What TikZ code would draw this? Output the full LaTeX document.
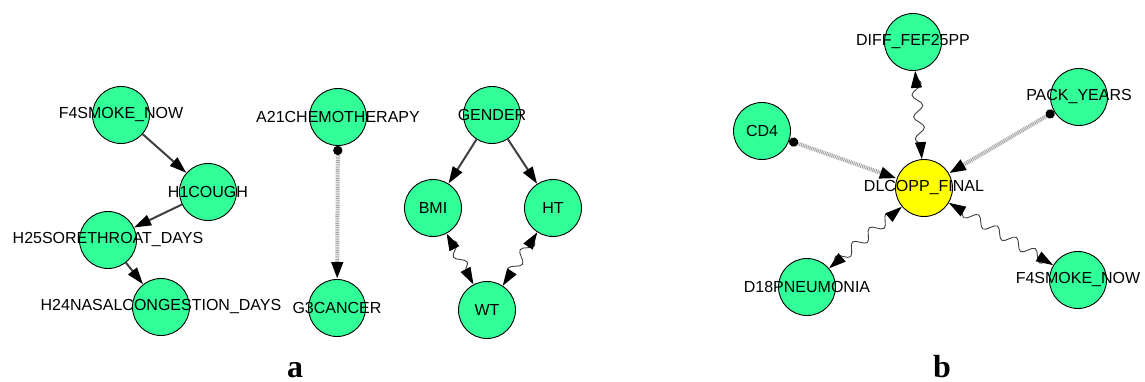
\documentclass[tikz,border=0pt]{standalone}
\usepackage{fontspec}
\setmainfont{Liberation Sans}
\newfontfamily\serifb{Liberation Serif}
\usetikzlibrary{arrows.meta,decorations.pathmorphing}
\definecolor{vgreen}{RGB}{51,255,153}
\definecolor{vyellow}{RGB}{255,255,0}
\definecolor{edgegray}{RGB}{64,64,64}
\tikzset{
  vnode/.style={circle,draw=black,line width=0.9pt,fill=vgreen,minimum size=57pt,inner sep=0pt},
  ynode/.style={vnode,fill=vyellow},
  lab/.style={font=\fontsize{16}{18}\selectfont,inner sep=0pt},
  panel/.style={font=\serifb\bfseries\fontsize{32}{34}\selectfont,inner sep=0pt,anchor=base},
  tri/.tip={Triangle[length=17pt 0 0,width=11pt 0 0,fill=black,color=black]},
  dir/.style={draw=edgegray,line width=2pt,-tri},
  hatch/.style={draw=gray!70,line width=4pt,dash pattern=on 1pt off 0.8pt,
     {Circle[length=9pt 0 0,fill=black,color=black]}-tri},
  wavy/.style={draw=black!75,line width=0.9pt,
     decoration={snake,amplitude=5pt,segment length=22pt,pre length=6pt,post length=6pt},
     decorate,tri-tri}
}
\begin{document}
\begin{tikzpicture}[x=1pt,y=-1pt]
\useasboundingbox (0,0) rectangle (1145,382);
% panel a
\node[vnode] (smk) at (121,115) {};
\node[vnode] (cgh) at (208,192) {};
\node[vnode] (sor) at (108,240) {};
\node[vnode] (nas) at (161,307) {};
\node[vnode] (che) at (338,117) {};
\node[vnode] (can) at (337,308) {};
\node[vnode] (gen) at (492,115) {};
\node[vnode] (bmi) at (433,208) {};
\node[vnode] (ht)  at (553,208) {};
\node[vnode] (wt)  at (487,310) {};
% panel b
\node[vnode] (dif) at (913,42) {};
\node[vnode] (pck) at (1079,97) {};
\node[vnode] (cd4) at (762,131) {};
\node[ynode] (dlc) at (924,188) {};
\node[vnode] (pne) at (807,287) {};
\node[vnode] (smk2) at (1078,280) {};
% edges
\draw[dir] (smk) -- (cgh);
\draw[dir] (cgh) -- (sor);
\draw[dir] (sor) -- (nas);
\draw[dir] (gen) -- (bmi);
\draw[dir] (gen) -- (ht);
\draw[hatch] (che) -- (can);
\draw[hatch] (cd4) -- (dlc);
\draw[hatch] (pck) -- (dlc);
\draw[wavy] (bmi) -- (wt);
\draw[wavy] (ht) -- (wt);
\draw[wavy] (dif) -- (dlc);
\draw[wavy] (pne) -- (dlc);
\draw[wavy] (smk2) -- (dlc);
% labels
\node[lab] at (smk) {F4SMOKE\_NOW};
\node[lab] at (cgh) {H1COUGH};
\node[lab] at (sor) {H25SORETHROAT\_DAYS};
\node[lab] at (nas) {H24NASALCONGESTION\_DAYS};
\node[lab] at (che) {A21CHEMOTHERAPY};
\node[lab] at (can) {G3CANCER};
\node[lab] at (gen) {GENDER};
\node[lab] at (bmi) {BMI};
\node[lab] at (ht) {HT};
\node[lab] at (wt) {WT};
\node[lab] at (dif) {DIFF\_FEF25PP};
\node[lab] at (pck) {PACK\_YEARS};
\node[lab] at (cd4) {CD4};
\node[lab] at (dlc) {DLCOPP\_FINAL};
\node[lab] at (pne) {D18PNEUMONIA};
\node[lab] at (smk2) {F4SMOKE\_NOW};
\node[panel] (pa) at (295,377) {a};
\node[panel] (pb) at (942,377) {b};
\end{tikzpicture}
\end{document}
